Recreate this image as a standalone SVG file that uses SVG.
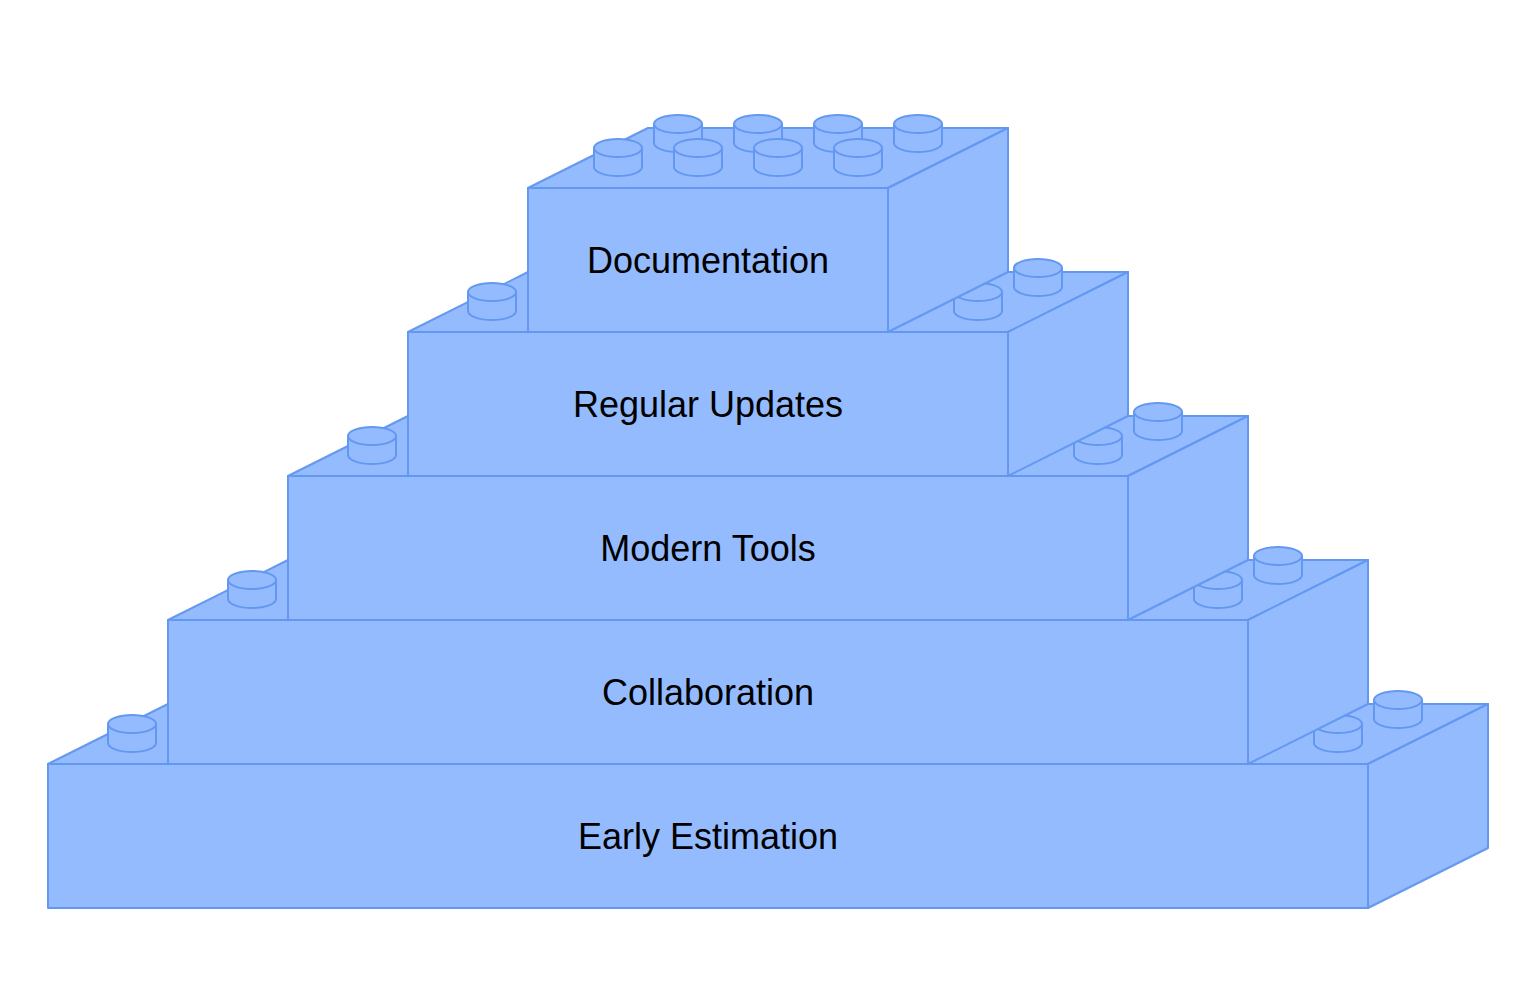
<svg xmlns="http://www.w3.org/2000/svg" width="1536" height="1004" viewBox="0 0 1536 1004">
<defs>
<style>
.f{fill:#94bbfe;stroke:#6498f0;stroke-width:2;stroke-linejoin:round}
.t{font-family:"Liberation Sans",Arial,sans-serif;font-size:36px;fill:#000;text-anchor:middle;dominant-baseline:central}
</style>
<g id="stud"><path class="f" d="M-24,0 V19 A24,9 0 0 0 24,19 V0 Z"/><ellipse class="f" cx="0" cy="0" rx="24" ry="9"/></g>
</defs>
<rect width="1536" height="1004" fill="#fff"/>
<g id="brick-early">
<path class="f" d="M48,764 L168,704 L1488,704 L1368,764 Z"/>
<path class="f" d="M1368,764 L1488,704 L1488,848 L1368,908 Z"/>
<rect class="f" x="48" y="764" width="1320" height="144"/>
<use href="#stud" x="132" y="724"/><use href="#stud" x="1398" y="700"/><use href="#stud" x="1338" y="724"/>
<text class="t" x="708" y="836">Early Estimation</text>
</g>
<g id="brick-collab">
<path class="f" d="M168,620 L288,560 L1368,560 L1248,620 Z"/>
<path class="f" d="M1248,620 L1368,560 L1368,704 L1248,764 Z"/>
<rect class="f" x="168" y="620" width="1080" height="144"/>
<use href="#stud" x="252" y="580"/><use href="#stud" x="1278" y="556"/><use href="#stud" x="1218" y="580"/>
<text class="t" x="708" y="692">Collaboration</text>
</g>
<g id="brick-tools">
<path class="f" d="M288,476 L408,416 L1248,416 L1128,476 Z"/>
<path class="f" d="M1128,476 L1248,416 L1248,560 L1128,620 Z"/>
<rect class="f" x="288" y="476" width="840" height="144"/>
<use href="#stud" x="372" y="436"/><use href="#stud" x="1158" y="412"/><use href="#stud" x="1098" y="436"/>
<text class="t" x="708" y="548">Modern Tools</text>
</g>
<g id="brick-updates">
<path class="f" d="M408,332 L528,272 L1128,272 L1008,332 Z"/>
<path class="f" d="M1008,332 L1128,272 L1128,416 L1008,476 Z"/>
<rect class="f" x="408" y="332" width="600" height="144"/>
<use href="#stud" x="492" y="292"/><use href="#stud" x="1038" y="268"/><use href="#stud" x="978" y="292"/>
<text class="t" x="708" y="404">Regular Updates</text>
</g>
<g id="brick-docs">
<path class="f" d="M528,188 L648,128 L1008,128 L888,188 Z"/>
<path class="f" d="M888,188 L1008,128 L1008,272 L888,332 Z"/>
<rect class="f" x="528" y="188" width="360" height="144"/>
<use href="#stud" x="678" y="124"/><use href="#stud" x="758" y="124"/><use href="#stud" x="838" y="124"/><use href="#stud" x="918" y="124"/>
<use href="#stud" x="618" y="148"/><use href="#stud" x="698" y="148"/><use href="#stud" x="778" y="148"/><use href="#stud" x="858" y="148"/>
<text class="t" x="708" y="260">Documentation</text>
</g>
<g id="connectors"/>
</svg>
